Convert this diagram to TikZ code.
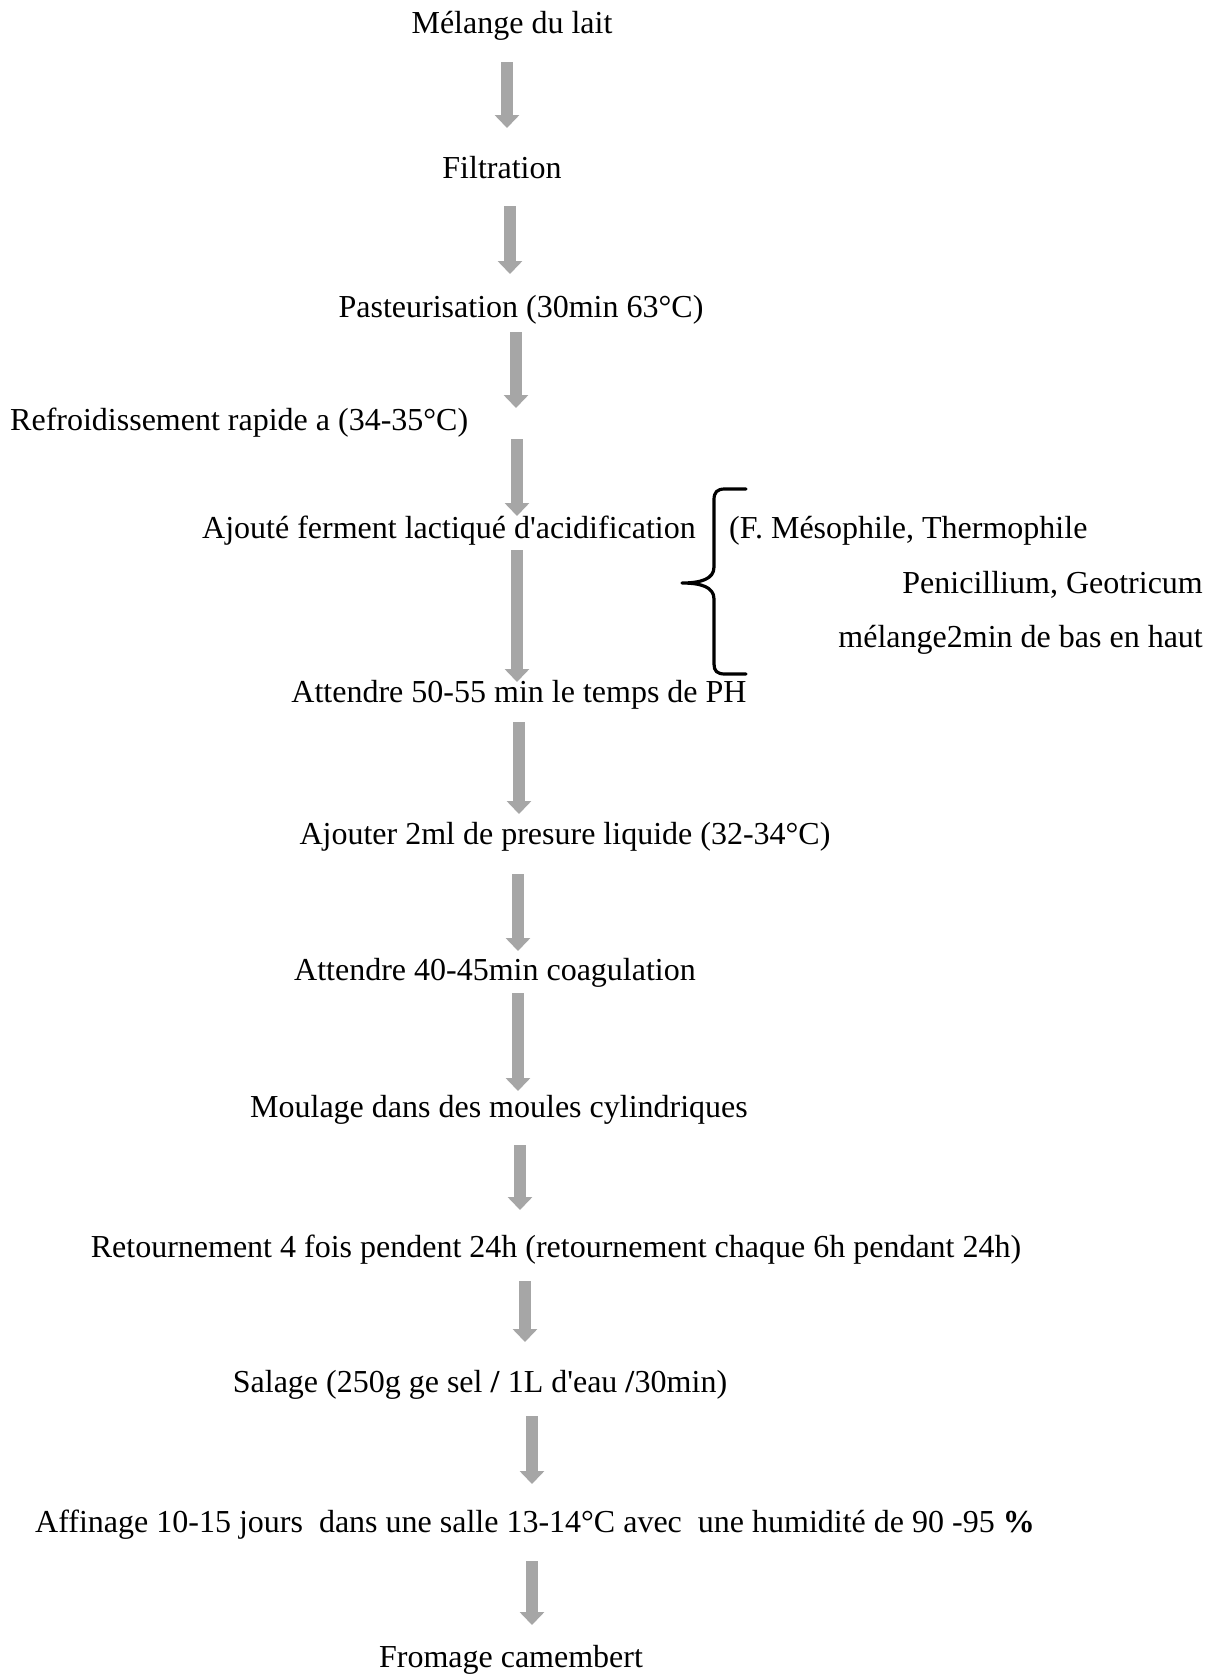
\documentclass[tikz,border=0pt]{standalone}
\usepackage{fontspec}
\setmainfont{Liberation Serif}
\usetikzlibrary{arrows.meta}
\definecolor{arrgray}{HTML}{A6A6A6}
\tikzset{
  lbl/.style={inner sep=0pt, anchor=base, font=\fontsize{32}{38}\selectfont},
  fatarrow/.style={draw=arrgray, line width=12pt, -{Triangle[width=24pt,length=13pt,fill=arrgray]}},
  bracepath/.style={draw=black, line width=3.2pt, line cap=round, line join=round}
}
\begin{document}
\begin{tikzpicture}[x=1pt,y=-1pt]
\useasboundingbox (0,0) rectangle (1219,1674);
% step labels
\node[lbl] (n1) at (512,33) {Mélange du lait};
\node[lbl] (n2) at (502,178) {Filtration};
\node[lbl] (n3) at (521,317) {Pasteurisation (30min 63°C)};
\node[lbl, anchor=base west] (n4) at (10,430) {Refroidissement rapide a (34-35°C)};
\node[lbl] (n5) at (449,538) {Ajouté ferment lactiqué d\textquotesingle acidification};
\node[lbl] (n6) at (519,702) {Attendre 50-55 min le temps de PH};
\node[lbl] (n7) at (565,844) {Ajouter 2ml de presure liquide (32-34°C)};
\node[lbl] (n8) at (495,980) {Attendre 40-45min coagulation};
\node[lbl] (n9) at (499,1117) {Moulage dans des moules cylindriques};
\node[lbl] (n10) at (556,1257) {Retournement 4 fois pendent 24h (retournement chaque 6h pendant 24h)};
\node[lbl] (n11) at (480,1392) {Salage (250g ge sel \textbf{/} 1L d\textquotesingle eau \textbf{/}30min)};
\node[lbl] (n12) at (535,1532) {Affinage 10-15 jours\ \ dans une salle 13-14°C avec\ \ une humidité de 90 -95 \textbf{\%}};
\node[lbl] (n13) at (511,1667) {Fromage camembert};
% side notes
\node[lbl, anchor=base west] (b1) at (729,538) {(F. Mésophile, Thermophile};
\node[lbl, anchor=base east] (b2) at (1203,593) {Penicillium, Geotricum};
\node[lbl, anchor=base east] (b3) at (1203,647) {mélange2min de bas en haut};
% brace
\draw[bracepath] (746,489) -- (725,489) .. controls (717,489) and (714,492) .. (714,500)
  -- (714,567) .. controls (714,579) and (701,583) .. (682,583)
  .. controls (701,583) and (714,587) .. (714,599)
  -- (714,664) .. controls (714,671) and (717,674) .. (725,674) -- (746,674);
% arrow end points
\coordinate (a1t) at (507,62);   \coordinate (a1b) at (507,128);
\coordinate (a2t) at (510,206);  \coordinate (a2b) at (510,274);
\coordinate (a3t) at (516,332);  \coordinate (a3b) at (516,408);
\coordinate (a4t) at (517,439);  \coordinate (a4b) at (517,516);
\coordinate (a5t) at (517,550);  \coordinate (a5b) at (517,682);
\coordinate (a6t) at (519,722);  \coordinate (a6b) at (519,814);
\coordinate (a7t) at (518,874);  \coordinate (a7b) at (518,951);
\coordinate (a8t) at (518,993);  \coordinate (a8b) at (518,1091);
\coordinate (a9t) at (520,1145); \coordinate (a9b) at (520,1210);
\coordinate (a10t) at (525,1281); \coordinate (a10b) at (525,1342);
\coordinate (a11t) at (532,1416); \coordinate (a11b) at (532,1484);
\coordinate (a12t) at (532,1561); \coordinate (a12b) at (532,1625);
\foreach \i in {1,...,12}{\draw[fatarrow] (a\i t) -- (a\i b);}
\end{tikzpicture}
\end{document}
